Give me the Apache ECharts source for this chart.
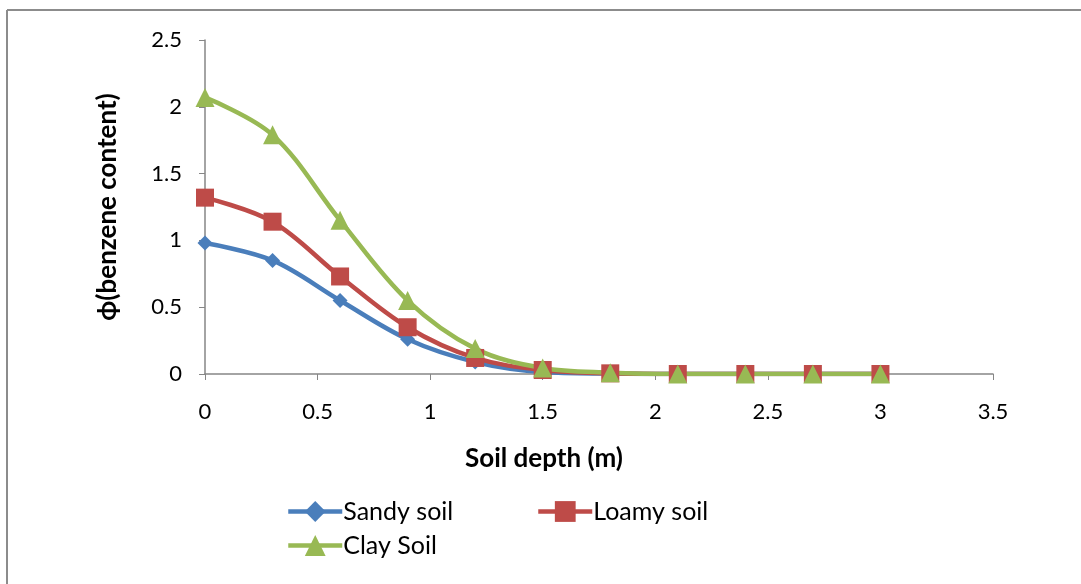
<!DOCTYPE html>
<html>
<head>
<meta charset="utf-8">
<script src="https://cdn.jsdelivr.net/npm/echarts@6/dist/echarts.min.js"></script>
<style>
  html, body { margin: 0; padding: 0; background: #fff; }
  #chart { width: 1081px; height: 584px; }
</style>
</head>
<body>
<div id="chart"></div>
<script>
// soil depth (m)
const depths = [0, 0.3, 0.6, 0.9, 1.2, 1.5, 1.8, 2.1, 2.4, 2.7, 3.0]
// benzene content per soil
const sandySoil = [0.98, 0.85, 0.55, 0.26, 0.09, 0.015, 0.003, 0, 0, 0, 0]
const loamySoil = [1.32, 1.14, 0.73, 0.35, 0.12, 0.03, 0.005, 0, 0, 0, 0]
const claySoil = [2.07, 1.79, 1.15, 0.55, 0.19, 0.045, 0.01, 0, 0, 0, 0]
const seriesNames = ['Sandy soil', 'Loamy soil', 'Clay Soil']

const font = 'Lato, "Open Sans", sans-serif'
const axisGray = '#868686'

function pairs (vals) {
  return depths.map((d, i) => [d, vals[i]])
}

function makeSeries (name, vals, color, symbol, size) {
  return {
    name: name,
    type: 'line',
    smooth: 0.35,
    data: pairs(vals),
    symbol: symbol,
    symbolSize: size,
    lineStyle: { color: color, width: 4.5 },
    itemStyle: { color: color },
    emphasis: { disabled: true }
  }
}

// one legend per item so the rows sit like the original
function legendAt (name, left, top) {
  return {
    data: [name],
    left: left,
    top: top,
    itemWidth: 54,
    itemHeight: 26,
    itemGap: 4,
    itemStyle: { borderWidth: 0 },
    lineStyle: { width: 4.5 },
    textStyle: { fontFamily: font, fontSize: 25, color: '#000', padding: [0, 0, 0, -4] },
    selectedMode: false
  }
}

let chart = echarts.init(document.getElementById('chart'))
chart.setOption({
  animation: false,
  backgroundColor: '#fff',
  textStyle: { fontFamily: font },
  grid: { left: 205, right: 88, top: 40, bottom: 210, containLabel: false },
  xAxis: {
    type: 'value',
    min: 0,
    max: 3.5,
    interval: 0.5,
    name: 'Soil depth (m)',
    nameLocation: 'middle',
    nameGap: 72,
    nameTextStyle: { fontFamily: font, fontSize: 26, fontWeight: 'bold', color: '#000', padding: [0, 110, 0, 0] },
    axisLine: { lineStyle: { color: axisGray, width: 1.5 } },
    axisTick: { show: true, inside: false, length: 6, lineStyle: { color: axisGray } },
    axisLabel: { fontFamily: font, fontSize: 22, color: '#000', margin: 27 },
    splitLine: { show: false }
  },
  yAxis: {
    type: 'value',
    min: 0,
    max: 2.5,
    interval: 0.5,
    name: 'ϕ(benzene content)',
    nameLocation: 'middle',
    nameGap: 84,
    nameRotate: 90,
    nameTextStyle: { fontFamily: font, fontSize: 26, fontWeight: 'bold', color: '#000', padding: [0, 0, 0, 0] },
    axisLine: { show: true, lineStyle: { color: axisGray, width: 1.5 } },
    axisTick: { show: true, inside: false, length: 6, lineStyle: { color: axisGray } },
    axisLabel: { fontFamily: font, fontSize: 22, color: '#000', margin: 23 },
    splitLine: { show: false }
  },
  legend: [
    legendAt(seriesNames[0], 281, 494),
    legendAt(seriesNames[1], 531, 494),
    legendAt(seriesNames[2], 281, 528)
  ],
  graphic: [
    { type: 'line', shape: { x1: 7, y1: 584, x2: 7, y2: 10 }, style: { stroke: '#8c8c8c', lineWidth: 2 } },
    { type: 'line', shape: { x1: 7, y1: 10, x2: 1081, y2: 10 }, style: { stroke: '#8c8c8c', lineWidth: 2 } }
  ],
  series: [
    makeSeries(seriesNames[0], sandySoil, '#4A7EBB', 'diamond', 15),
    makeSeries(seriesNames[1], loamySoil, '#BE4B48', 'rect', 18),
    makeSeries(seriesNames[2], claySoil, '#98B954', 'triangle', 19)
  ]
})
</script>
</body>
</html>
